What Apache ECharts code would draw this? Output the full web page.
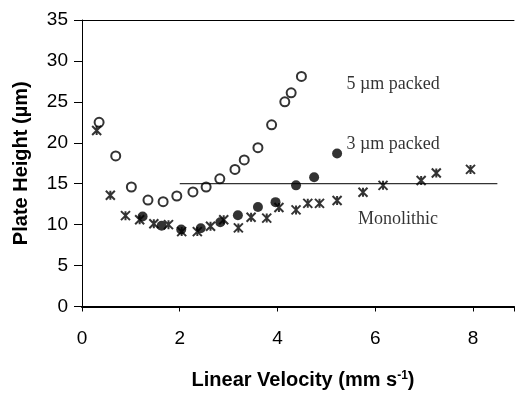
<!DOCTYPE html>
<html>
<head>
<meta charset="utf-8">
<script src="https://cdn.jsdelivr.net/npm/echarts@6/dist/echarts.min.js"></script>
<style>
  html, body { margin: 0; padding: 0; background: #fff; }
  #chart { width: 517px; height: 395px; }
</style>
</head>
<body>
<div id="chart"></div>
<script>
// 5 µm packed (open circles)
var packed5X = [0.35, 0.69, 1.01, 1.35, 1.66, 1.94, 2.27, 2.54, 2.82, 3.13, 3.32, 3.60, 3.88, 4.15, 4.28, 4.49];
var packed5Y = [22.5, 18.4, 14.6, 13.0, 12.8, 13.5, 14.0, 14.6, 15.6, 16.75, 17.9, 19.4, 22.2, 25.0, 26.1, 28.1];
// 3 µm packed (filled circles)
var packed3X = [1.24, 1.63, 2.03, 2.43, 2.83, 3.19, 3.60, 3.96, 4.38, 4.75, 5.22];
var packed3Y = [11.0, 9.87, 9.4, 9.55, 10.3, 11.15, 12.15, 12.75, 14.8, 15.8, 18.7];
// monolithic (stars)
var monoX = [0.30, 0.58, 0.89, 1.18, 1.47, 1.77, 2.04, 2.36, 2.63, 2.90, 3.20, 3.46, 3.78, 4.03, 4.38, 4.62, 4.86, 5.22, 5.75, 6.16, 6.94, 7.25, 7.95];
var monoY = [21.5, 13.6, 11.1, 10.6, 10.1, 10.0, 9.15, 9.15, 9.8, 10.6, 9.6, 10.9, 10.8, 12.1, 11.8, 12.6, 12.6, 12.95, 13.95, 14.8, 15.4, 16.3, 16.75];
// reference line
var refLineX = [2.0, 8.5];
var refLineY = [15, 15];
// annotations
var noteText = ['5 \u00b5m packed', '3 \u00b5m packed', 'Monolithic'];
var noteX = [5.41, 5.41, 5.65];
var noteY = [27.2, 19.8, 10.6];

function pairs(xs, ys) {
  return xs.map(function (x, i) { return [x, ys[i]]; });
}

var chart = echarts.init(document.getElementById('chart'));
chart.setOption({
  animation: false,
  grid: { left: 82, right: 0, top: 20, bottom: 83 },
  xAxis: [{
    type: 'value',
    min: 0,
    max: 8.84,
    interval: 2,
    name: 'Linear Velocity (mm s{sup|-1})',
    nameLocation: 'middle',
    nameGap: 63,
    nameTextStyle: {
      fontFamily: 'Liberation Sans', fontWeight: 'bold', fontSize: 20, color: '#000',
      padding: [0, 0, 0, 10],
      rich: { sup: { fontFamily: 'Liberation Sans', fontWeight: 'bold', fontSize: 12, color: '#000', verticalAlign: 'top', padding: [0, 0, 9, 0] } }
    },
    axisLine: { lineStyle: { color: '#000', width: 2 } },
    axisTick: { length: 5, lineStyle: { color: '#000' } },
    axisLabel: {
      margin: 23,
      fontFamily: 'Liberation Sans', fontSize: 19, color: '#000',
      formatter: function (v) { return v % 2 === 0 ? v : ''; }
    },
    splitLine: { show: false }
  }, {
    type: 'value',
    position: 'top',
    min: 0,
    max: 8.84,
    axisLine: { show: true, lineStyle: { color: '#000', width: 1 } },
    axisTick: { show: false },
    axisLabel: { show: false },
    splitLine: { show: false }
  }],
  yAxis: {
    type: 'value',
    min: 0,
    max: 35,
    interval: 5,
    name: 'Plate Height (\u00b5m)',
    nameLocation: 'middle',
    nameGap: 51,
    nameTextStyle: { fontFamily: 'Liberation Sans', fontWeight: 'bold', fontSize: 20, color: '#000' },
    axisLine: { show: true, lineStyle: { color: '#000', width: 1 } },
    axisTick: { show: true, length: 8, lineStyle: { color: '#000' } },
    axisLabel: { margin: 14, fontFamily: 'Liberation Sans', fontSize: 19, color: '#000' },
    splitLine: { show: false }
  },
  series: [
    {
      type: 'line',
      data: pairs(refLineX, refLineY),
      symbol: 'none',
      lineStyle: { color: '#000', width: 1 },
      silent: true
    },
    {
      name: '5 um packed',
      type: 'scatter',
      data: pairs(packed5X, packed5Y),
      symbol: 'emptyCircle',
      symbolSize: 9,
      itemStyle: { color: '#000', borderColor: '#000', borderWidth: 1 }
    },
    {
      name: '3 um packed',
      type: 'scatter',
      data: pairs(packed3X, packed3Y),
      symbol: 'circle',
      symbolSize: 10,
      itemStyle: { color: '#000' }
    },
    {
      name: 'Monolithic',
      type: 'scatter',
      data: pairs(monoX, monoY),
      symbol: 'path://M0,0L10,10M10,0L0,10M5,0L5,10',
      symbolSize: 9,
      itemStyle: { color: 'none', borderColor: '#000', borderWidth: 2 }
    },
    {
      type: 'scatter',
      data: noteText.map(function (t, i) { return { value: [noteX[i], noteY[i]], name: t }; }),
      symbolSize: 0,
      silent: true,
      label: {
        show: true,
        position: 'right',
        distance: 0,
        formatter: '{b}',
        fontFamily: 'Liberation Serif',
        fontSize: 18,
        color: '#000'
      }
    }
  ]
});
</script>
</body>
</html>
